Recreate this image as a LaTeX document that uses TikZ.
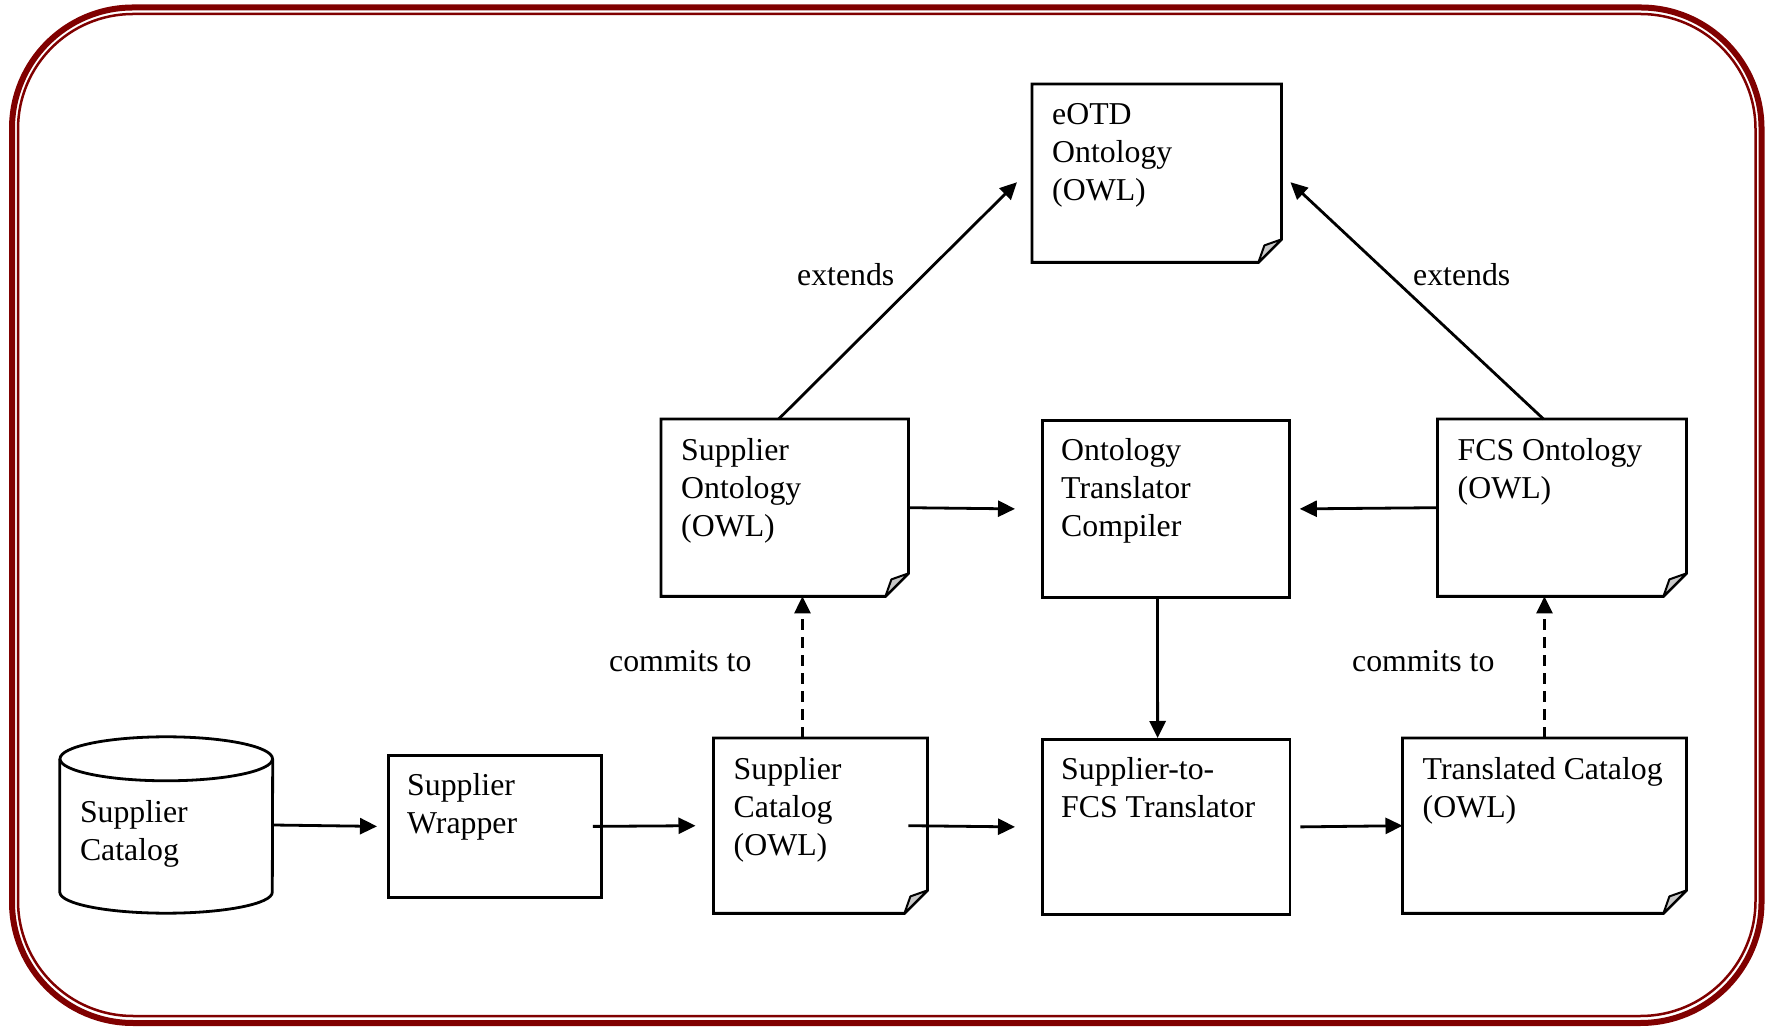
\documentclass[tikz,border=0pt]{standalone}
\usepackage{fontspec}
\setmainfont{Liberation Serif}
\usetikzlibrary{arrows.meta,calc}
\definecolor{maroon}{RGB}{128,0,0}
\definecolor{foldgray}{RGB}{200,200,200}
\tikzset{
  boxline/.style={line width=2.8pt, line join=miter},
  plainbox/.style={draw, boxline, inner sep=0pt, anchor=north west},
  docbox/.style={inner sep=0pt, anchor=north west},
  lbl/.style={anchor=north west, inner sep=0pt, align=left, font=\fontsize{31.8}{38}\selectfont},
  edgelbl/.style={anchor=base west, inner sep=0pt, font=\fontsize{31.8}{38}\selectfont},
  arr/.style={line width=2.8pt, -{Triangle[length=17pt,width=16pt]}},
  dasharr/.style={arr, dash pattern=on 11pt off 7pt},
}
\newcommand\dogear[1]{%
  \draw[boxline] (#1.north west) -- (#1.north east) -- ([yshift=23pt]#1.south east)
     -- ([xshift=-23pt]#1.south east) -- (#1.south west) -- cycle;
  \filldraw[fill=foldgray, line width=2pt, line join=round] ([yshift=23pt]#1.south east)
     -- ([shift={(-17pt,17pt)}]#1.south east) -- ([xshift=-23pt]#1.south east) -- cycle;}
\begin{document}
\begin{tikzpicture}[x=1pt,y=1pt]
\useasboundingbox (0,0) rectangle (1772,1028);
% frame
\draw[maroon, line width=6pt, rounded corners=121pt] (12,5) rectangle (1761.5,1020.5);
\draw[maroon, line width=2.5pt, rounded corners=115pt] (18,12) rectangle (1755.5,1014);

% document nodes
\node[docbox, minimum width=249pt, minimum height=178pt] (eotd) at (1032,944) {};
\node[docbox, minimum width=247pt, minimum height=177pt] (so) at (661,609) {};
\node[plainbox, minimum width=247pt, minimum height=177pt] (otc) at (1041,609) {};
\node[docbox, minimum width=248.5pt, minimum height=177pt] (fcs) at (1437.5,609) {};
\node[plainbox, minimum width=213pt, minimum height=142pt] (wrap) at (387,274) {};
\node[docbox, minimum width=213.5pt, minimum height=175pt] (cat) at (713.5,290) {};
\node[plainbox, minimum width=247.5pt, minimum height=175pt] (s2f) at (1041,290) {};
\node[docbox, minimum width=283.5pt, minimum height=175pt] (trans) at (1402.5,290) {};
\dogear{eotd}
\dogear{so}
\dogear{fcs}
\dogear{cat}
\dogear{trans}

% cylinder
\node[inner sep=0pt, minimum width=212.5pt, minimum height=176pt] (cyl) at (166.25,203) {};
\draw[boxline] ($(cyl.north)+(0,-22)$) ellipse [x radius=106.25pt, y radius=22pt];
\draw[boxline] ($(cyl.north west)+(0,-22)$) -- ($(cyl.south west)+(0,21)$)
   arc[start angle=180, end angle=360, x radius=106.25pt, y radius=21pt]
   -- ($(cyl.north east)+(0,-22)$);

% texts
\node[lbl] (t-eotd) at ([shift={(20,-19.5)}]eotd.north west) {eOTD\\Ontology\\(OWL)};
\node[lbl] (t-so) at ([shift={(20,-19.5)}]so.north west) {Supplier\\Ontology\\(OWL)};
\node[lbl] (t-otc) at ([shift={(20,-19.5)}]otc.north west) {Ontology\\Translator\\Compiler};
\node[lbl] (t-fcs) at ([shift={(20,-19.5)}]fcs.north west) {FCS Ontology\\(OWL)};
\node[lbl] (t-wrap) at ([shift={(20,-19.5)}]wrap.north west) {Supplier\\Wrapper};
\node[lbl] (t-cat) at ([shift={(20,-19.5)}]cat.north west) {Supplier\\Catalog\\(OWL)};
\node[lbl] (t-s2f) at ([shift={(20,-19.5)}]s2f.north west) {Supplier-to-\\FCS Translator};
\node[lbl] (t-trans) at ([shift={(20,-19.5)}]trans.north west) {Translated Catalog\\(OWL)};
\node[lbl] (t-cyl) at ([shift={(20,-63.5)}]cyl.north west) {Supplier\\Catalog};

% connectors
\draw[arr] (cyl.east) -- ([xshift=-10pt]wrap.west);
\draw[arr] ([xshift=-10pt]wrap.east) -- ([xshift=-18pt]cat.west);
\draw[arr] ([xshift=-19pt]cat.east) -- ([xshift=-26pt]s2f.west);
\draw[arr] ([xshift=9pt]s2f.east) -- (trans.west);
\draw[arr] (so.east) -- ([xshift=-26pt]otc.west);
\draw[arr] (fcs.west) -- ([xshift=9pt]otc.east);
\draw[arr] ([xshift=-8.5pt]otc.south) -- ([xshift=-8.5pt]s2f.north);
\draw[dasharr] ([xshift=-18pt]cat.north) -- ([xshift=-18pt]cat.north |- so.south);
\draw[dasharr] (trans.north) -- (trans.north |- fcs.south);
\draw[arr] ([xshift=-6pt]so.north) -- ([shift={(-15pt,-9pt)}]eotd.west);
\draw[arr] ([xshift=-18.5pt]fcs.north) -- ([shift={(9pt,-9pt)}]eotd.east);

% edge labels
\node[edgelbl] (l-ext1) at (797,742) {extends};
\node[edgelbl] (l-ext2) at (1413,742) {extends};
\node[edgelbl] (l-com1) at (609,356) {commits to};
\node[edgelbl] (l-com2) at (1352,356) {commits to};
\end{tikzpicture}
\end{document}
